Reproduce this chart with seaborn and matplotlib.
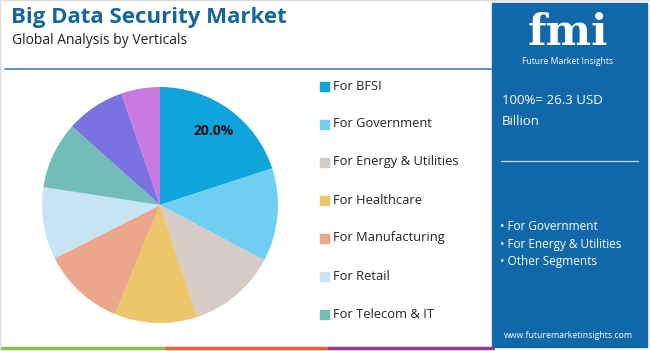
import matplotlib
matplotlib.use("Agg")
import numpy as np
import matplotlib.pyplot as plt
import seaborn as sns
from matplotlib.patches import Rectangle
from matplotlib.lines import Line2D

# chart data
segments = ["For BFSI", "For Government", "For Energy & Utilities", "For Healthcare",
            "For Manufacturing", "For Retail", "For Telecom & IT", "Others A", "Others B"]
shares = [20.0, 12.8, 12.1, 11.4, 11.3, 9.9, 9.2, 8.1, 5.3]
legend_items = segments[:7]
colors = ["#0ea4dc", "#6fcff1", "#d6cbc7", "#ecc66b", "#eca68c",
          "#c6e4f4", "#72bdb8", "#7a72e1", "#c97ae1"]
panel_total = "100%= 26.3 USD\nBillion"
panel_bullets = ["For Government", "For Energy & Utilities", "Other Segments"]

W, H = 650, 351
sns.set_theme(style="white")
plt.rcParams["font.family"] = ["Open Sans", "DejaVu Sans"]

fig = plt.figure(figsize=(W / 100, H / 100), dpi=100)
fig.patch.set_facecolor("white")


def fx(x):
    return x / W


def fy(y):
    return 1 - y / H


# title block
fig.text(fx(11), fy(18), "Big Data Security Market", fontsize=16, fontweight="bold",
         color="#16669e", va="center", ha="left")
fig.text(fx(12), fy(40), "Global Analysis by Verticals", fontsize=10, color="#222222",
         va="center", ha="left")
fig.add_artist(Line2D([fx(5), fx(492)], [fy(69), fy(69)], color="#3b82b5", lw=1.2))

# pie
cx, cy, r = 160, 205, 118
ax = fig.add_axes([fx(cx - r), fy(cy + r), 2 * r / W, 2 * r / H])
wedges, _ = ax.pie(shares, colors=colors, startangle=90, counterclock=False,
                   wedgeprops={"linewidth": 0})
ax.set_xlim(-1, 1)
ax.set_ylim(-1, 1)
ax.axis("off")
mid = 90 - shares[0] / 2 * 3.6
ax.text(0.77 * np.cos(np.radians(mid)), 0.77 * np.sin(np.radians(mid)), f"{shares[0]:.1f}%",
        ha="center", va="center", fontsize=10, fontweight="bold", color="#111111")

# legend
for i, lab in enumerate(legend_items):
    y = 86 + i * 38
    fig.add_artist(Rectangle((fx(320), fy(y + 4.5)), 9 / W, 9 / H, color=colors[i],
                             transform=fig.transFigure))
    fig.text(fx(333), fy(y), lab, fontsize=9.3, color="#222222", va="center", ha="left")

# bottom stripe
for i, c in enumerate(["#8cc152", "#e9603a", "#8e3e91"]):
    fig.add_artist(Line2D([fx(2 + i * 163.5), fx(2 + (i + 1) * 163.5)], [fy(348), fy(348)],
                          color=c, lw=2.5))

# right panel
panel = "#1168a8"
fig.add_artist(Rectangle((fx(492), fy(347)), 155 / W, 344 / H, color=panel,
                         transform=fig.transFigure))
fig.text(fx(568), fy(33), "fmi", fontsize=31, fontweight="bold", color="white",
         family="DejaVu Serif", ha="center", va="center")
for yy in range(19, 50, 4):
    fig.add_artist(Line2D([fx(515), fx(622)], [fy(yy), fy(yy)], color=panel, lw=0.7))
fig.text(fx(568), fy(62), "Future Market Insights", fontsize=6.2, color="white",
         ha="center", va="center")
fig.text(fx(502), fy(111), panel_total, fontsize=9.5, color="white", ha="left",
         va="center", linespacing=1.75)
fig.add_artist(Line2D([fx(501), fx(638)], [fy(161), fy(161)], color="#c9dcec", lw=0.9))
for i, b in enumerate(panel_bullets):
    fig.text(fx(500), fy(227 + i * 17.5), "\u2022 " + b, fontsize=8.5, color="white",
             ha="left", va="center")
fig.text(fx(568), fy(335), "www.futuremarketinsights.com", fontsize=6.3, color="white",
         ha="center", va="center")

# thin frame
fig.add_artist(Rectangle((0, 0), 1, 1, fill=False, ec="#dddddd", lw=1,
                         transform=fig.transFigure))

fig.savefig("out.png", dpi=100)
